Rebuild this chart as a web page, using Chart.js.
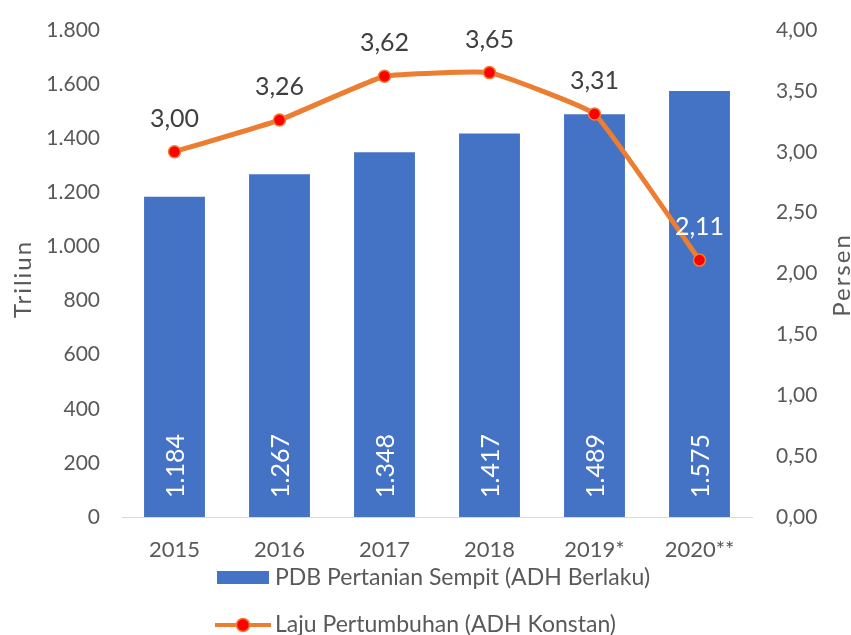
<!DOCTYPE html>
<html>
<head>
<meta charset="utf-8">
<script src="https://cdn.jsdelivr.net/npm/chart.js@4.4.1/dist/chart.umd.min.js"></script>
<style>
  html, body { margin: 0; padding: 0; background: #ffffff; }
  #wrap { position: relative; width: 851px; height: 635px; }
</style>
</head>
<body>
<div id="wrap"><canvas id="c" width="851" height="635"></canvas></div>
<script>
const categories = ['2015', '2016', '2017', '2018', '2019*', '2020**'];
const pdbValues = [1184, 1267, 1348, 1417, 1489, 1575];
const growthValues = [3.00, 3.26, 3.62, 3.65, 3.31, 2.11];
const leftTicks = [0, 200, 400, 600, 800, 1000, 1200, 1400, 1600, 1800];
const rightTicks = [0, 0.5, 1, 1.5, 2, 2.5, 3, 3.5, 4];
const barLabel = 'PDB Pertanian Sempit (ADH Berlaku)';
const lineLabel = 'Laju Pertumbuhan (ADH Konstan)';
const leftTitle = 'Triliun';
const rightTitle = 'Persen';

const FONT = 'Lato, "Open Sans", "Liberation Sans", sans-serif';
const TXT = '#595959';
const BLUE = '#4472C4';
const ORANGE = '#ED7D31';

const fmtThousands = v => Math.round(v).toString().replace(/\B(?=(\d{3})+(?!\d))/g, '.');
const fmtDec = v => v.toFixed(2).replace('.', ',');

const labelPlugin = {
  id: 'labels',
  afterDatasetsDraw(chart) {
    const ctx = chart.ctx;
    const barMeta = chart.getDatasetMeta(1);
    ctx.save();
    ctx.fillStyle = '#ffffff';
    ctx.font = '25px ' + FONT;
    barMeta.data.forEach((el, i) => {
      ctx.save();
      ctx.translate(el.x + 1, 498);
      ctx.rotate(-Math.PI / 2);
      ctx.textAlign = 'left';
      ctx.textBaseline = 'middle';
      ctx.fillText(fmtThousands(pdbValues[i]), 0, 0);
      ctx.restore();
    });
    const lineMeta = chart.getDatasetMeta(0);
    ctx.font = '25px ' + FONT;
    ctx.textAlign = 'center';
    ctx.textBaseline = 'middle';
    lineMeta.data.forEach((el, i) => {
      const last = i === growthValues.length - 1;
      ctx.fillStyle = last ? '#ffffff' : '#404040';
      ctx.fillText(fmtDec(growthValues[i]), el.x, el.y - 33);
    });
    ctx.restore();
  },
  afterDraw(chart) {
    const ctx = chart.ctx;
    ctx.save();
    // axis titles
    ctx.fillStyle = TXT;
    ctx.font = '24px ' + FONT;
    try { ctx.letterSpacing = '2px'; } catch (e) {}
    ctx.textAlign = 'center';
    ctx.textBaseline = 'middle';
    [[leftTitle, 23, 279], [rightTitle, 842, 275]].forEach(([t, x, y]) => {
      ctx.save();
      ctx.translate(x, y);
      ctx.rotate(-Math.PI / 2);
      ctx.fillText(t, 0, 0);
      ctx.restore();
    });
    try { ctx.letterSpacing = '0px'; } catch (e) {}
    // legend
    ctx.fillStyle = BLUE;
    ctx.fillRect(217, 571, 52, 13);
    ctx.fillStyle = TXT;
    ctx.font = '23px ' + FONT;
    ctx.textAlign = 'left';
    ctx.fillText(barLabel, 275, 578);
    ctx.strokeStyle = ORANGE;
    ctx.lineWidth = 4;
    ctx.beginPath();
    ctx.moveTo(215, 625);
    ctx.lineTo(271, 625);
    ctx.stroke();
    ctx.beginPath();
    ctx.arc(243, 625, 6.5, 0, Math.PI * 2);
    ctx.fillStyle = '#FF0000';
    ctx.fill();
    ctx.lineWidth = 1.5;
    ctx.strokeStyle = ORANGE;
    ctx.stroke();
    ctx.fillStyle = TXT;
    ctx.fillText(lineLabel, 275, 625);
    ctx.restore();
  }
};

new Chart(document.getElementById('c'), {
  data: {
    labels: categories,
    datasets: [
      {
        type: 'line',
        label: lineLabel,
        data: growthValues,
        yAxisID: 'y1',
        borderColor: ORANGE,
        borderWidth: 5,
        backgroundColor: '#FF0000',
        pointBackgroundColor: '#FF0000',
        pointBorderColor: ORANGE,
        pointBorderWidth: 1.5,
        pointRadius: 6,
        tension: 0.1,
        order: 0
      },
      {
        type: 'bar',
        label: barLabel,
        data: pdbValues,
        yAxisID: 'y',
        backgroundColor: BLUE,
        borderWidth: 0,
        categoryPercentage: 1,
        barPercentage: 0.58,
        order: 1
      }
    ]
  },
  options: {
    responsive: false,
    animation: false,
    devicePixelRatio: 1,
    layout: { padding: { top: 30, left: 0, right: 0, bottom: 0 } },
    plugins: { legend: { display: false }, tooltip: { enabled: false } },
    scales: {
      x: {
        grid: { display: false, drawTicks: false },
        border: { display: true, color: '#D9D9D9', width: 1 },
        ticks: { color: TXT, font: { family: FONT, size: 22 }, padding: 20 },
        afterFit(s) { s.height = 118; }
      },
      y: {
        position: 'left',
        min: 0, max: 1800,
        afterBuildTicks(s) { s.ticks = leftTicks.map(v => ({ value: v })); },
        grid: { display: false, drawTicks: false },
        border: { display: false },
        ticks: { color: TXT, font: { family: FONT, size: 21 }, padding: 22, callback: v => fmtThousands(v) },
        afterFit(s) { s.width = 122; s.paddingTop = 0; s.paddingBottom = 0; }
      },
      y1: {
        position: 'right',
        min: 0, max: 4,
        afterBuildTicks(s) { s.ticks = rightTicks.map(v => ({ value: v })); },
        grid: { display: false, drawTicks: false },
        border: { display: false },
        ticks: { color: TXT, font: { family: FONT, size: 21 }, padding: 24, callback: v => fmtDec(v) },
        afterFit(s) { s.width = 99; s.paddingTop = 0; s.paddingBottom = 0; }
      }
    }
  },
  plugins: [labelPlugin]
});
</script>
</body>
</html>
